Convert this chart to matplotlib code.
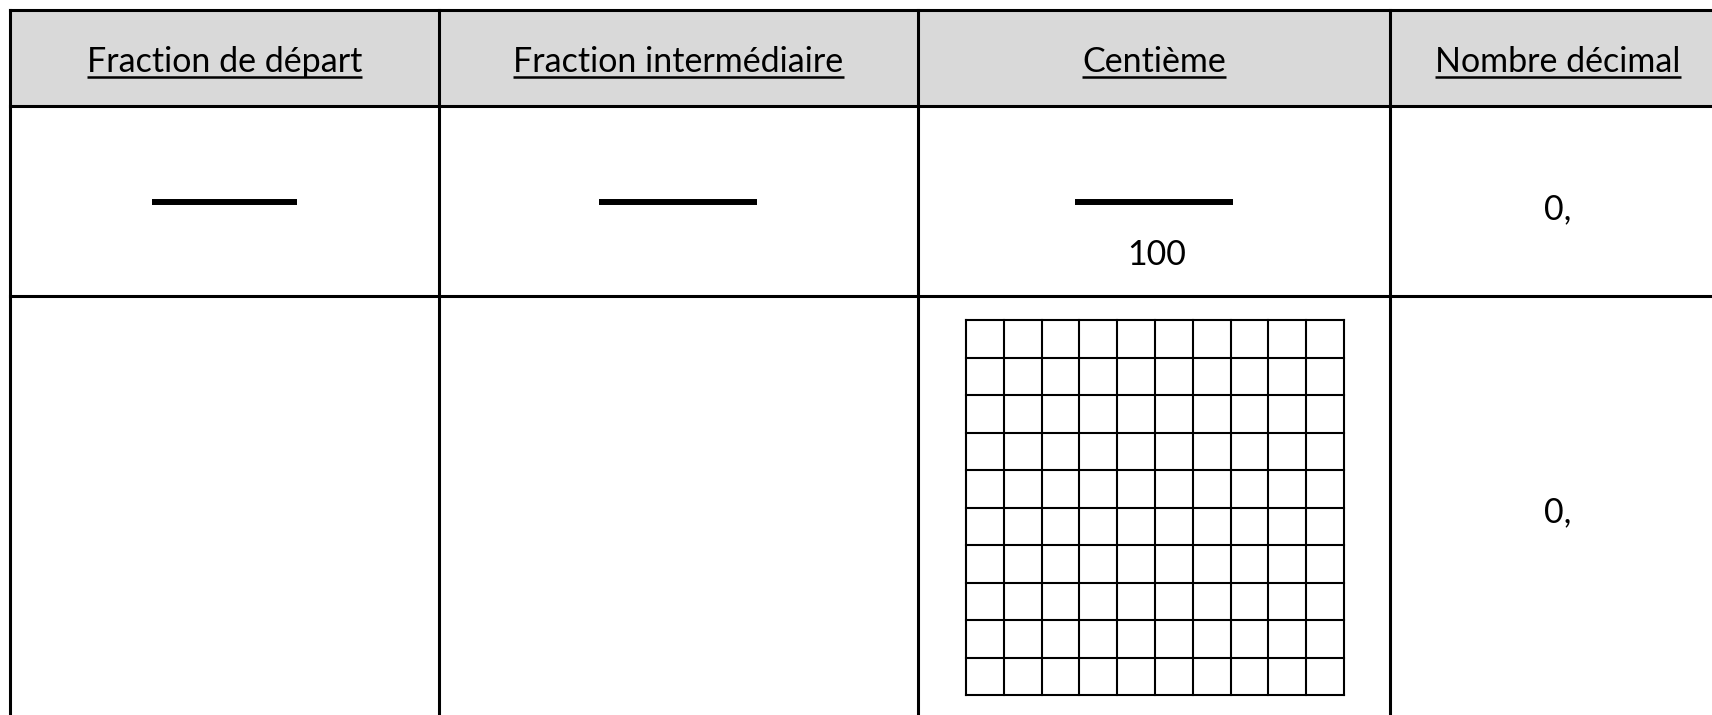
import matplotlib
matplotlib.use("Agg")
import matplotlib.pyplot as plt
from matplotlib.patches import Rectangle

# contenu du tableau
headers = ["Fraction de départ", "Fraction intermédiaire", "Centième", "Nombre décimal"]
denominator = "100"
decimal_start = "0,"
grid_n = 10

# mise en page (pixels)
W, H = 1712, 715
col_x = [10, 439, 918, 1390, 1726]
row_y = [10, 106, 296, 740]
bar_w = [145, 158, 158]
bar_y = 202
grid_box = (966, 320, 1344, 695)

plt.rcParams['font.family'] = ['Lato', 'DejaVu Sans']

fig = plt.figure(figsize=(W / 100, H / 100), dpi=100)
ax = fig.add_axes([0, 0, 1, 1])
ax.set_xlim(0, W)
ax.set_ylim(H, 0)
ax.axis('off')

# bandeau d'en-tête
ax.add_patch(Rectangle((col_x[0], row_y[0]), col_x[-1] - col_x[0], row_y[1] - row_y[0],
                       facecolor='#d9d9d9', edgecolor='none'))

lw = 2.2
for y in row_y[:3]:
    ax.plot([col_x[0], col_x[-1]], [y, y], color='black', lw=lw, solid_capstyle='projecting')
for x in col_x:
    ax.plot([x, x], [row_y[0], row_y[-1]], color='black', lw=lw, solid_capstyle='projecting')

# titres soulignés
fs = 24.5
texts = []
for i, h in enumerate(headers):
    cx = (col_x[i] + col_x[i + 1]) / 2
    t = ax.text(cx, 72, h, ha='center', va='baseline', fontsize=fs, color='black')
    texts.append(t)

# traits de fraction
for i, w in enumerate(bar_w):
    cx = (col_x[i] + col_x[i + 1]) / 2
    ax.plot([cx - w / 2, cx + w / 2], [bar_y, bar_y], color='black', lw=4.3, solid_capstyle='butt')

c3 = (col_x[2] + col_x[3]) / 2
ax.text(c3 + 3, 265, denominator, ha='center', va='baseline', fontsize=fs)
c4 = (col_x[3] + col_x[4]) / 2
ax.text(c4, 219, decimal_start, ha='center', va='baseline', fontsize=fs)
ax.text(c4, 522, decimal_start, ha='center', va='baseline', fontsize=fs)

# grille des centièmes
gx0, gy0, gx1, gy1 = grid_box
for k in range(grid_n + 1):
    x = gx0 + (gx1 - gx0) * k / grid_n
    y = gy0 + (gy1 - gy0) * k / grid_n
    ax.plot([x, x], [gy0, gy1], color='black', lw=1.5, solid_capstyle='projecting')
    ax.plot([gx0, gx1], [y, y], color='black', lw=1.5, solid_capstyle='projecting')

# soulignement
fig.canvas.draw()
r = fig.canvas.get_renderer()
inv = ax.transData.inverted()
for t in texts:
    bb = t.get_window_extent(r)
    (x0, _), (x1, _) = inv.transform([[bb.x0, bb.y0], [bb.x1, bb.y1]])
    ax.plot([x0, x1], [77, 77], color='black', lw=1.8, solid_capstyle='butt')

fig.savefig("out.png", dpi=100)
